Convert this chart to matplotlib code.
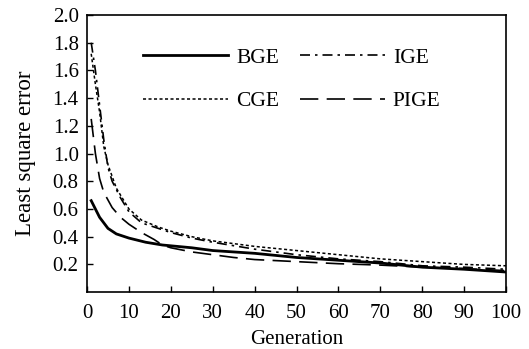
import matplotlib.pyplot as plt

plt.rcParams['font.family'] = ['Liberation Serif', 'DejaVu Serif']

gen_bge = [1, 2, 3, 5, 7, 10, 14, 18, 25, 30, 40, 50, 60, 70, 80, 90, 100]
bge = [0.66, 0.60, 0.54, 0.46, 0.42, 0.39, 0.36, 0.34, 0.32, 0.30, 0.28,
       0.25, 0.23, 0.21, 0.18, 0.165, 0.145]

gen_ige = [1, 2, 3, 4, 5, 6, 8, 10, 13, 17, 20, 25, 30, 40, 50, 60, 70, 80,
           90, 100]
ige = [1.80, 1.60, 1.35, 1.10, 0.90, 0.80, 0.68, 0.58, 0.50, 0.46, 0.43,
       0.39, 0.36, 0.31, 0.27, 0.24, 0.22, 0.19, 0.18, 0.165]

gen_cge = [1, 2, 3, 4, 5, 7, 10, 13, 17, 20, 25, 30, 40, 50, 60, 70, 80, 90,
           100]
cge = [1.72, 1.50, 1.30, 1.05, 0.92, 0.75, 0.60, 0.52, 0.47, 0.44, 0.40,
       0.37, 0.33, 0.30, 0.27, 0.24, 0.22, 0.20, 0.19]

gen_pige = [1, 2, 3, 4, 6, 8, 10, 13, 16, 18, 20, 25, 30, 35, 40, 50, 60,
            70, 80, 90, 100]
pige = [1.25, 1.00, 0.82, 0.72, 0.61, 0.54, 0.49, 0.43, 0.38, 0.34, 0.32,
        0.29, 0.27, 0.25, 0.235, 0.22, 0.205, 0.195, 0.18, 0.17, 0.155]

x_ticks = list(range(0, 101, 10))
y_ticks = [0.2, 0.4, 0.6, 0.8, 1.0, 1.2, 1.4, 1.6, 1.8, 2.0]

fig = plt.figure(figsize=(5.29, 3.49), dpi=100)
ax = fig.add_axes([0.1645, 0.163, 0.792, 0.794])

l_bge, = ax.plot(gen_bge, bge, color='black', lw=2.0, ls='-', label='BGE')
l_ige, = ax.plot(gen_ige, ige, color='black', lw=1.2,
                 ls=(0, (6, 3, 1.5, 3)), label='IGE')
l_cge, = ax.plot(gen_cge, cge, color='black', lw=1.1, ls=(0, (2, 1.6)),
                 label='CGE')
l_pige, = ax.plot(gen_pige, pige, color='black', lw=1.2, ls=(0, (11, 5)),
                  label='PIGE')

ax.set_xlim(0, 100)
ax.set_ylim(0, 2.0)
ax.set_xticks(x_ticks)
ax.set_yticks(y_ticks)
ax.set_yticklabels([f'{v:.1f}' for v in y_ticks])
ax.tick_params(direction='in', length=4, width=1, labelsize=15)
ax.tick_params(axis='x', pad=8.5)
ax.tick_params(axis='y', pad=6)
for s in ax.spines.values():
    s.set_linewidth(1.2)

ax.set_xlabel('Generation', fontsize=15, labelpad=5)
ax.set_ylabel('Least square error', fontsize=16.5, labelpad=12)

# legend fills column-wise, so order gives rows BGE/IGE and CGE/PIGE
ax.legend([l_bge, l_cge, l_ige, l_pige], ['BGE', 'CGE', 'IGE', 'PIGE'],
          loc='upper left', bbox_to_anchor=(0.109, 0.92), ncol=2,
          frameon=False, fontsize=15.5, handlelength=3.95, handletextpad=0.37,
          columnspacing=0.95, labelspacing=1.08, borderpad=0)

fig.savefig('out.png', dpi=100)
